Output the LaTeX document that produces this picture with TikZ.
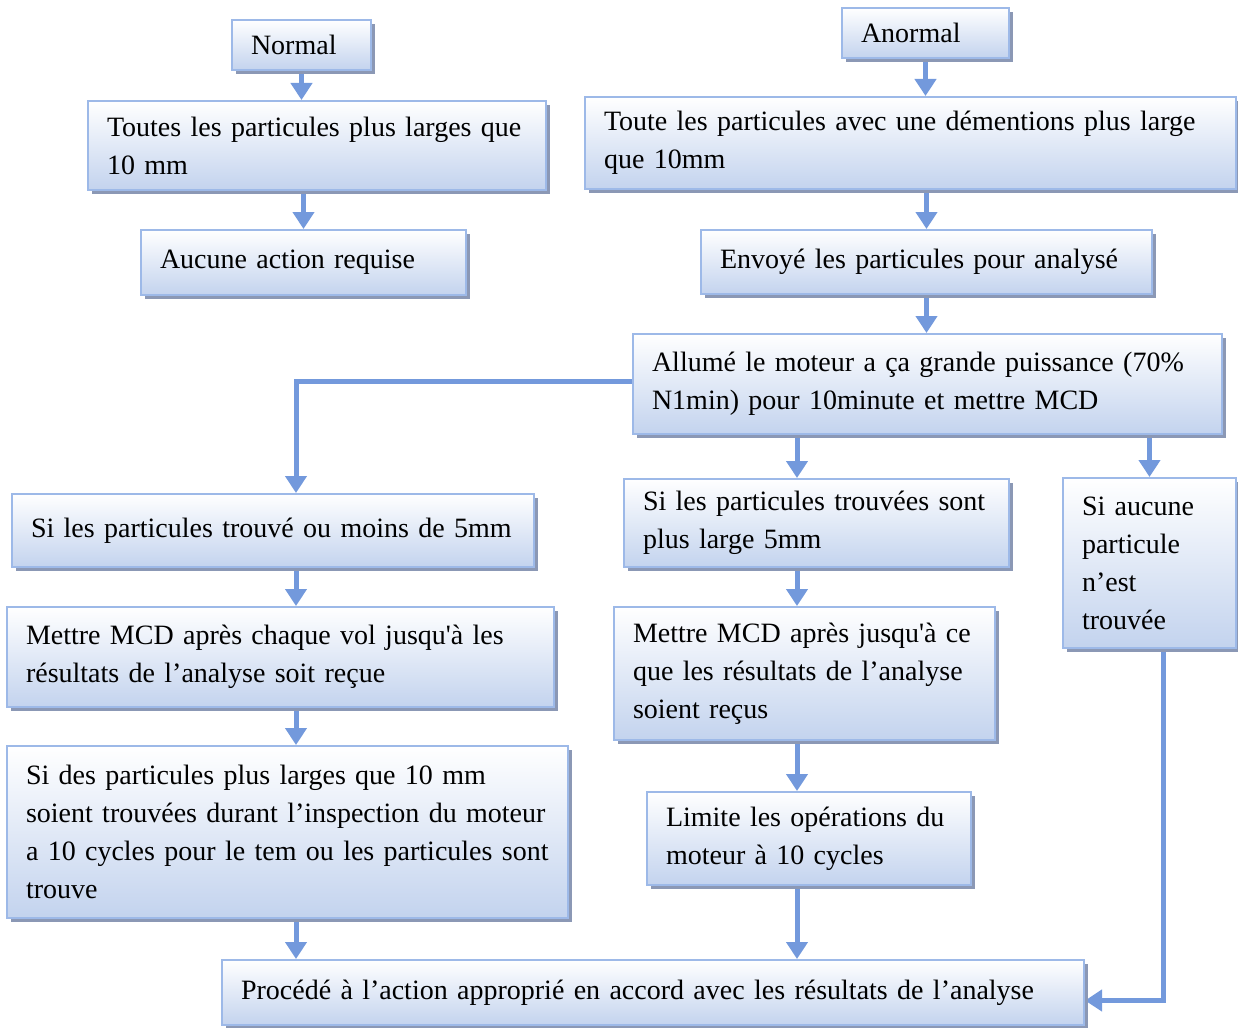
\documentclass[tikz,border=0pt]{standalone}
\usepackage{fontspec}
\setmainfont{Liberation Serif}
\usetikzlibrary{arrows.meta,shadows,backgrounds}

\definecolor{boxline}{HTML}{9DB9E8}
\definecolor{boxfill}{HTML}{C3D3EE}
\definecolor{boxshadow}{HTML}{8B98B5}
\definecolor{flowblue}{HTML}{7399DC}

\newcommand{\flowfont}{\fontsize{28}{38}\selectfont\hyphenpenalty=10000\relax}

\tikzset{
  flowbox/.style={rectangle, draw=boxline, line width=2pt,
    top color=white, bottom color=boxfill,
    align=left, inner xsep=19pt, inner ysep=3pt,
    font=\flowfont,
    drop shadow={shadow xshift=4pt, shadow yshift=-4pt, fill=boxshadow, opacity=1}},
  flowarrow/.style={draw=flowblue, line width=5pt,
    -{Triangle[width=21pt,length=17pt]}},
}

\begin{document}
\begin{tikzpicture}[x=1pt, y=-1pt]
	\useasboundingbox (0,0) rectangle (1238,1027);

	% two cases at the top
	\node[flowbox, text width=101pt, minimum height=50pt] (normal) at (301.5,45) {Normal};
	\node[flowbox, text width=129pt, minimum height=50pt] (anormal) at (925.5,33) {Anormal};

	\node[flowbox, text width=420pt, minimum height=89pt] (toutes) at (317,145.5)
		{Toutes les particules plus larges que\\10 mm};
	\node[flowbox, text width=613pt, minimum height=92pt] (toute) at (910.5,143)
		{Toute les particules avec une démentions plus large\\que 10mm};

	\node[flowbox, text width=287pt, minimum height=65pt] (aucune) at (303.5,262.5)
		{Aucune action requise};
	\node[flowbox, text width=413pt, minimum height=64pt] (envoi) at (926.5,262)
		{Envoyé les particules pour analysé};

	\node[flowbox, text width=551pt, minimum height=100pt] (allume) at (927.5,384)
		{Allumé le moteur a ça grande puissance (70\%\\N1min) pour 10minute et mettre MCD};

	% results of the run
	\node[flowbox, text width=484pt, minimum height=73pt] (petites) at (273,530.5)
		{Si les particules trouvé ou moins de 5mm};
	\node[flowbox, text width=347pt, minimum height=88pt] (grandes) at (816.5,523)
		{Si les particules trouvées sont\\plus large 5mm};
	\node[flowbox, text width=135pt, minimum height=170pt] (aucunepart) at (1149.5,563)
		{Si aucune\\particule\\n’est\\trouvée};

	\node[flowbox, text width=509pt, minimum height=100pt] (mcdvol) at (280.5,657)
		{Mettre MCD après chaque vol jusqu\textquotesingle à les\\résultats de l’analyse soit reçue};
	\node[flowbox, text width=343pt, minimum height=133pt] (mcdres) at (804.5,673.5)
		{Mettre MCD après jusqu\textquotesingle à ce\\que les résultats de l’analyse\\soient reçus};

	\node[flowbox, text width=523pt, minimum height=172pt] (inspection) at (287.5,832)
		{Si des particules plus larges que 10 mm\\soient trouvées durant l’inspection du moteur\\a 10 cycles pour le tem ou les particules sont\\trouve};
	\node[flowbox, text width=286pt, minimum height=93pt] (limite) at (809,838.5)
		{Limite les opérations du\\moteur à 10 cycles};

	\node[flowbox, text width=824pt, minimum height=65pt] (action) at (653,992.5)
		{Procédé à l’action approprié en accord avec les résultats de l’analyse};

	\coordinate (leftcol) at (296,0);
	\coordinate (midcol) at (797,0);

	\begin{scope}[on background layer]
		\draw[flowarrow] (normal.south) -- (normal.south |- toutes.north);
		\draw[flowarrow] (anormal.south) -- (anormal.south |- toute.north);
		\draw[flowarrow] (aucune.north |- toutes.south) -- (aucune.north);
		\draw[flowarrow] (envoi.north |- toute.south) -- (envoi.north);
		\draw[flowarrow] (envoi.south) -- (envoi.south |- allume.north);

		\draw[flowarrow] ([yshift=3pt]allume.west) -| (petites.north -| leftcol);
		\draw[flowarrow] (allume.south -| midcol) -- (grandes.north -| midcol);
		\draw[flowarrow] (allume.south -| aucunepart) -- (aucunepart.north);

		\draw[flowarrow] (petites.south -| leftcol) -- (mcdvol.north -| leftcol);
		\draw[flowarrow] (mcdvol.south -| leftcol) -- (inspection.north -| leftcol);
		\draw[flowarrow] (inspection.south -| leftcol) -- (action.north -| leftcol);

		\draw[flowarrow] (grandes.south -| midcol) -- (mcdres.north -| midcol);
		\draw[flowarrow] (mcdres.south -| midcol) -- (limite.north -| midcol);
		\draw[flowarrow] (limite.south -| midcol) -- (action.north -| midcol);

		\draw[flowarrow] ([xshift=14pt]aucunepart.south) |- ([yshift=-8pt]action.east);
	\end{scope}
\end{tikzpicture}
\end{document}
